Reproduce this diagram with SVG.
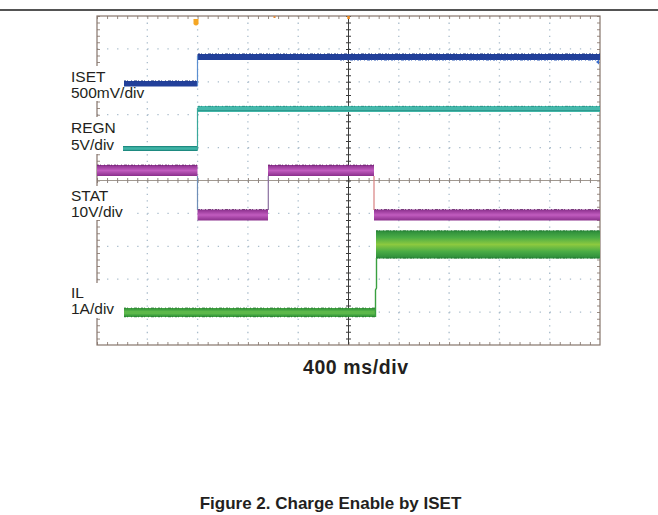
<svg xmlns="http://www.w3.org/2000/svg" width="658" height="515" viewBox="0 0 658 515">
<defs>
<style>
.lbl{font-family:"Liberation Sans",Arial,sans-serif;font-size:15.5px;fill:#231f20}
.cap{font-family:"Liberation Sans",Arial,sans-serif;font-weight:bold;font-size:17px;fill:#231f20}
.dotv{stroke:#a9bccb;stroke-width:1.3;stroke-dasharray:1.3 5.28}
.doth{stroke:#a9bccb;stroke-width:1.3;stroke-dasharray:1.3 8.76}
.noise{fill:none;stroke-width:0.9;stroke-dasharray:2 1 1 3 1 2 3 1 1 2;opacity:0.8}
</style>
<linearGradient id="ilg" x1="0" y1="0" x2="0" y2="1">
<stop offset="0" stop-color="#2a8a3a"/>
<stop offset="0.25" stop-color="#4aac45"/>
<stop offset="0.5" stop-color="#8cc93f"/>
<stop offset="0.75" stop-color="#4aac45"/>
<stop offset="1" stop-color="#2a8a3a"/>
</linearGradient>
<linearGradient id="stg" x1="0" y1="0" x2="0" y2="1">
<stop offset="0" stop-color="#8a2f8c"/>
<stop offset="0.5" stop-color="#c15cbf"/>
<stop offset="1" stop-color="#8a2f8c"/>
</linearGradient>
</defs>
<rect width="658" height="515" fill="#ffffff"/>
<line x1="0" y1="10" x2="658" y2="10" stroke="#1a1a1a" stroke-width="1.5"/>

<g id="grid">
<line class="dotv" x1="147.3" y1="16" x2="147.3" y2="345"/>
<line class="dotv" x1="197.6" y1="16" x2="197.6" y2="345"/>
<line class="dotv" x1="247.9" y1="16" x2="247.9" y2="345"/>
<line class="dotv" x1="298.2" y1="16" x2="298.2" y2="345"/>
<line class="dotv" x1="398.8" y1="16" x2="398.8" y2="345"/>
<line class="dotv" x1="449.1" y1="16" x2="449.1" y2="345"/>
<line class="dotv" x1="499.4" y1="16" x2="499.4" y2="345"/>
<line class="dotv" x1="549.7" y1="16" x2="549.7" y2="345"/>
<line class="doth" x1="97" y1="48.9" x2="600" y2="48.9"/>
<line class="doth" x1="97" y1="81.8" x2="600" y2="81.8"/>
<line class="doth" x1="97" y1="114.7" x2="600" y2="114.7"/>
<line class="doth" x1="97" y1="147.6" x2="600" y2="147.6"/>
<line class="doth" x1="97" y1="213.4" x2="600" y2="213.4"/>
<line class="doth" x1="97" y1="246.3" x2="600" y2="246.3"/>
<line class="doth" x1="97" y1="279.2" x2="600" y2="279.2"/>
<line class="doth" x1="97" y1="312.1" x2="600" y2="312.1"/>
<line x1="97" y1="17.5" x2="600" y2="17.5" stroke="#9a8c84" stroke-width="3" stroke-dasharray="1 9.06"/>
<line x1="97" y1="343.5" x2="600" y2="343.5" stroke="#9a8c84" stroke-width="3" stroke-dasharray="1 9.06"/>
<line x1="98.5" y1="16" x2="98.5" y2="345" stroke="#9a8c84" stroke-width="3" stroke-dasharray="1 5.58"/>
<line x1="598.5" y1="16" x2="598.5" y2="345" stroke="#9a8c84" stroke-width="3" stroke-dasharray="1 5.58"/>
<line x1="97" y1="180.5" x2="600" y2="180.5" stroke="#a09890" stroke-width="1"/>
<line x1="97" y1="180.5" x2="600" y2="180.5" stroke="#8f8580" stroke-width="5" stroke-dasharray="1 9.06"/>
<line x1="348.5" y1="16" x2="348.5" y2="345" stroke="#3b3b3b" stroke-width="1"/>
<line x1="348.5" y1="16" x2="348.5" y2="345" stroke="#3b3b3b" stroke-width="5" stroke-dasharray="1 5.58"/>
<rect x="97" y="16" width="503" height="329" fill="none" stroke="#86756c" stroke-width="1.2"/>
</g>

<g id="labels">
<rect x="68" y="66" width="56" height="35" fill="#ffffff"/>
<rect x="68" y="86" width="80" height="15" fill="#ffffff"/>
<rect x="68" y="117" width="54" height="37" fill="#ffffff"/>
<rect x="68" y="186" width="62" height="34" fill="#ffffff"/>
<rect x="68" y="283" width="56" height="35" fill="#ffffff"/>
<text class="lbl" x="71" y="81.5">ISET</text>
<text class="lbl" x="71" y="97.5">500mV/div</text>
<text class="lbl" x="71" y="132.5">REGN</text>
<text class="lbl" x="71" y="149.5">5V/div</text>
<text class="lbl" x="71" y="200.5">STAT</text>
<text class="lbl" x="71" y="216.5">10V/div</text>
<text class="lbl" x="71" y="297.5">IL</text>
<text class="lbl" x="71" y="313.5">1A/div</text>
</g>

<g id="markers">
<path d="M193.5,19 L193.5,24 Q196,27 198.5,24 L198.5,19 Z" fill="#f5a623"/>
<rect x="347.3" y="16" width="2.4" height="3" fill="#f08a1c"/>
<rect x="273.5" y="16" width="2" height="2" fill="#e08a3a"/>
<path d="M596,62 L599,59.5 L599,64.5 Z" fill="#3a6fd0"/>
</g>

<g id="trace-iset">
<rect x="124" y="81" width="73.5" height="5.5" fill="#22409a"/>
<rect x="197.5" y="54" width="402.5" height="6" fill="#22409a"/>
<line x1="197.5" y1="56" x2="197.5" y2="86" stroke="#5b8fd0" stroke-width="1.2"/>
<line class="noise" x1="124" y1="80.8" x2="197" y2="80.8" stroke="#122a70"/>
<line class="noise" x1="340" y1="60.3" x2="596" y2="60.3" stroke="#4a70c0"/>
<line class="noise" x1="198" y1="53.8" x2="600" y2="53.8" stroke="#15307a"/>
</g>

<g id="trace-regn">
<rect x="123" y="146" width="74.5" height="5" fill="#3fb3a6"/>
<rect x="123" y="146" width="74.5" height="1.2" fill="#1e8a80"/>
<rect x="123" y="149.8" width="74.5" height="1.2" fill="#1e8a80"/>
<rect x="197.5" y="106" width="402.5" height="6" fill="#46b9ac"/>
<line class="noise" x1="198" y1="106.3" x2="600" y2="106.3" stroke="#1d8278"/>
<line x1="198" y1="110.6" x2="600" y2="110.6" stroke="#2a978c" stroke-width="1"/>
<line x1="197.5" y1="108" x2="197.5" y2="150" stroke="#3aa89c" stroke-width="1.2"/>
</g>

<g id="trace-stat">
<rect x="97" y="165" width="100.5" height="11" fill="url(#stg)"/>
<rect x="268" y="165" width="106" height="11" fill="url(#stg)"/>
<rect x="197.5" y="209.5" width="70.5" height="11" fill="url(#stg)"/>
<rect x="374" y="209.5" width="226" height="11" fill="url(#stg)"/>
<line class="noise" x1="97" y1="165" x2="197" y2="165" stroke="#5e1a60"/>
<line class="noise" x1="268" y1="165" x2="374" y2="165" stroke="#5e1a60"/>
<line class="noise" x1="198" y1="209.5" x2="268" y2="209.5" stroke="#5e1a60"/>
<line class="noise" x1="374" y1="209.5" x2="600" y2="209.5" stroke="#5e1a60"/>
<line x1="197.5" y1="176" x2="197.5" y2="210" stroke="#6f8fb8" stroke-width="1.2"/>
<line x1="268.3" y1="176" x2="268.3" y2="210" stroke="#8a6fa0" stroke-width="1.2"/>
<line x1="374" y1="176" x2="374" y2="210" stroke="#d88080" stroke-width="1.2"/>
</g>

<g id="trace-il">
<rect x="124" y="308" width="252" height="9" fill="#3d9e3e"/>
<rect x="124" y="310.5" width="252" height="4" fill="#5cb84a"/>
<line class="noise" x1="124" y1="308" x2="376" y2="308" stroke="#1d6e2a"/>
<line class="noise" x1="124" y1="316.8" x2="376" y2="316.8" stroke="#1d6e2a"/>
<rect x="376" y="230.5" width="224" height="28" fill="url(#ilg)"/>
<line class="noise" x1="376" y1="230.8" x2="600" y2="230.8" stroke="#1d6e2a"/>
<line class="noise" x1="376" y1="258" x2="600" y2="258" stroke="#1d6e2a"/>
<path d="M375.5,317 L375.5,290 L376.5,288 L376.5,258" fill="none" stroke="#3aa040" stroke-width="1.4"/>
</g>

<text class="cap" x="355.5" y="374" text-anchor="middle" style="font-size:19.5px" textLength="105" lengthAdjust="spacing">400 ms/div</text>
<text class="cap" x="330.5" y="509" text-anchor="middle">Figure 2. Charge Enable by ISET</text>
</svg>
